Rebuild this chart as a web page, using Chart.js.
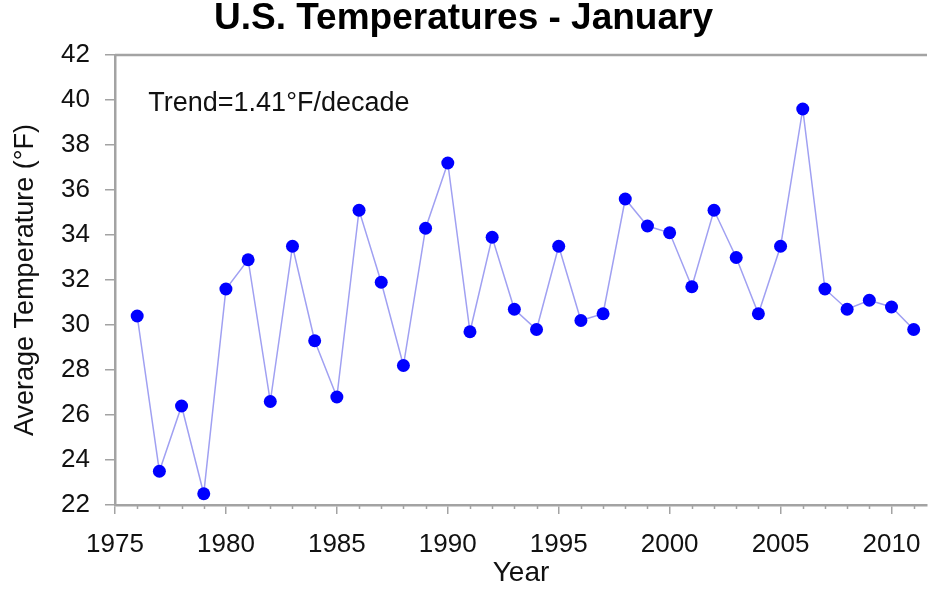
<!DOCTYPE html>
<html>
<head>
<meta charset="utf-8">
<script src="https://cdn.jsdelivr.net/npm/chart.js@4/dist/chart.umd.min.js"></script>
<style>
html,body{margin:0;padding:0;background:#fff}
</style>
</head>
<body>
<canvas id="chart" width="928" height="590"></canvas>
<script>
// ── Data ─────────────────────────────────────
const years = [1976,1977,1978,1979,1980,1981,1982,1983,1984,1985,1986,1987,1988,1989,1990,1991,1992,1993,
  1994,1995,1996,1997,1998,1999,2000,2001,2002,2003,2004,2005,2006,2007,2008,2009,2010,2011];
const temps = [30.4,23.5,26.4,22.5,31.6,32.9,26.6,33.5,29.3,26.8,35.1,31.9,28.2,34.3,37.2,29.7,33.9,30.7,
  29.8,33.5,30.2,30.5,35.6,34.4,34.1,31.7,35.1,33.0,30.5,33.5,39.6,31.6,30.7,31.1,30.8,29.8];
const xTickYears = [1975,1980,1985,1990,1995,2000,2005,2010];
const yTickTemps = [22,24,26,28,30,32,34,36,38,40,42];
const trendLabel = 'Trend=1.41°F/decade';
const trendAt = {x:1976.5, y:39.85};

// ── Style ────────────────────────────────────
const font = "'Liberation Sans', Arial, sans-serif";
const axisGray = '#a3a3a3';
Chart.defaults.font.family = font;
Chart.defaults.color = '#111';

// minor year ticks, top frame line, trend text
const extras = {
  id:'extras',
  afterDraw(chart){
    const {ctx, chartArea:a, scales:{x,y}} = chart;
    ctx.save();
    ctx.strokeStyle = axisGray;
    ctx.lineWidth = 1.5;
    ctx.beginPath();
    for (let yr = 1976; yr <= 2011; yr++) {
      if (yr % 5 === 0) continue;
      const px = Math.round(x.getPixelForValue(yr)) + 0.5;
      ctx.moveTo(px, a.bottom); ctx.lineTo(px, a.bottom + 4);
    }
    ctx.stroke();
    ctx.lineWidth = 2.5;
    ctx.beginPath();
    ctx.moveTo(a.left, a.top); ctx.lineTo(a.right, a.top);
    ctx.stroke();
    ctx.fillStyle = '#111';
    ctx.font = '27px ' + font;
    ctx.textAlign = 'left';
    ctx.textBaseline = 'middle';
    ctx.fillText(trendLabel, x.getPixelForValue(trendAt.x), y.getPixelForValue(trendAt.y));
    ctx.restore();
  }
};

new Chart(document.getElementById('chart'), {
  type:'line',
  data:{datasets:[{
    data: years.map((yr,i)=>({x:yr, y:temps[i]})),
    borderColor:'#a0a0f2', borderWidth:1.5, tension:0,
    pointRadius:6.5, pointBackgroundColor:'#0000ff', pointBorderColor:'#0000ff', pointBorderWidth:0,
    clip:false
  }]},
  options:{
    responsive:false, animation:false, devicePixelRatio:1,
    layout:{autoPadding:false, padding:{left:0, right:1, top:0, bottom:0}},
    plugins:{
      legend:{display:false}, tooltip:{enabled:false},
      title:{display:true, text:'U.S. Temperatures - January', color:'#000',
        font:{size:37, weight:'bold', lineHeight:1}, padding:{top:0, bottom:18}}
    },
    scales:{
      x:{
        type:'linear', min:1975, max:2011.6,
        afterBuildTicks: s => { s.ticks = xTickYears.map(v=>({value:v})); },
        afterFit: s => { s.height = 85; s.paddingRight = 0; s.paddingLeft = 0; },
        grid:{drawOnChartArea:false, drawTicks:true, tickLength:9, color:axisGray, lineWidth:1.5},
        border:{color:axisGray, width:2.5},
        ticks:{font:{size:26}, padding:15, color:'#111', callback:v=>String(v)},
        title:{display:true, text:'Year', font:{size:28}, color:'#111', padding:{top:0, bottom:0}}
      },
      y:{
        min:22, max:42,
        afterBuildTicks: s => { s.ticks = yTickTemps.map(v=>({value:v})); },
        afterFit: s => { s.width = 115; },
        grid:{drawOnChartArea:false, drawTicks:true, tickLength:10, color:axisGray, lineWidth:1.5},
        border:{color:axisGray, width:2.5},
        ticks:{font:{size:26}, padding:15, color:'#111'},
        title:{display:true, text:'Average Temperature (°F)', font:{size:27}, color:'#111', padding:{top:9, bottom:0}}
      }
    }
  },
  plugins:[extras]
});
</script>
</body>
</html>
